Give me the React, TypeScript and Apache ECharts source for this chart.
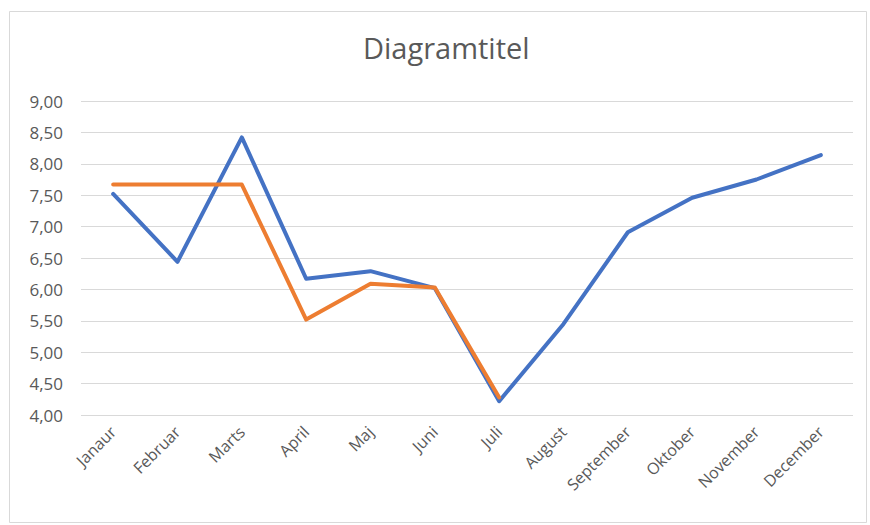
import React, { useEffect, useRef } from "react";
import * as echarts from "echarts";

const months = ["Janaur", "Februar", "Marts", "April", "Maj", "Juni", "Juli", "August", "September", "Oktober", "November", "December"];
const blueSeries = [7.52, 6.44, 8.42, 6.17, 6.29, 6.02, 4.22, 5.45, 6.91, 7.46, 7.75, 8.14];
const orangeSeries = [7.67, 7.67, 7.67, 5.52, 6.09, 6.03, 4.28];
const yMin = 4;
const yMax = 9;
const yStep = 0.5;
const titleText = "Diagramtitel";

export default function App() {
  const ref = useRef<HTMLDivElement>(null);
  useEffect(() => {
    if (!ref.current) return;
    const chart = echarts.init(ref.current, null, { renderer: "svg" });
    const font = "'Open Sans', 'Noto Sans', sans-serif";
    chart.setOption({
      animation: false,
      backgroundColor: "#ffffff",
      title: {
        text: titleText,
        left: 358,
        top: 28,
        textStyle: { fontFamily: font, fontSize: 29, fontWeight: "normal", color: "#595959" },
      },
      graphic: [
        {
          type: "rect",
          shape: { x: 9.5, y: 11.5, width: 857, height: 511 },
          style: { fill: "none", stroke: "#d9d9d9", lineWidth: 1 },
          silent: true,
        },
      ],
      grid: { left: 81, right: 17, top: 101, bottom: 110, containLabel: false },
      xAxis: {
        type: "category",
        data: months,
        boundaryGap: true,
        axisLine: { show: false },
        axisTick: { show: false },
        axisLabel: {
          rotate: 45,
          margin: 14,
          fontFamily: font,
          fontSize: 16,
          color: "#595959",
          interval: 0,
        },
      },
      yAxis: {
        type: "value",
        min: yMin,
        max: yMax,
        interval: yStep,
        axisLine: { show: false },
        axisTick: { show: false },
        splitLine: { lineStyle: { color: "#d9d9d9", width: 1 } },
        axisLabel: {
          margin: 18,
          fontFamily: font,
          fontSize: 17,
          color: "#595959",
          formatter: (v: number) => v.toFixed(2).replace(".", ","),
        },
      },
      series: [
        {
          type: "line",
          data: blueSeries,
          showSymbol: false,
          symbol: "none",
          lineStyle: { color: "#4472C4", width: 4, cap: "round", join: "round" },
          itemStyle: { color: "#4472C4" },
        },
        {
          type: "line",
          data: orangeSeries,
          showSymbol: false,
          symbol: "none",
          lineStyle: { color: "#ED7D31", width: 4, cap: "round", join: "round" },
          itemStyle: { color: "#ED7D31" },
        },
      ],
    });
    return () => chart.dispose();
  }, []);
  return <div ref={ref} style={{ width: 870, height: 525, position: "absolute", left: 0, top: 0 }} />;
}
